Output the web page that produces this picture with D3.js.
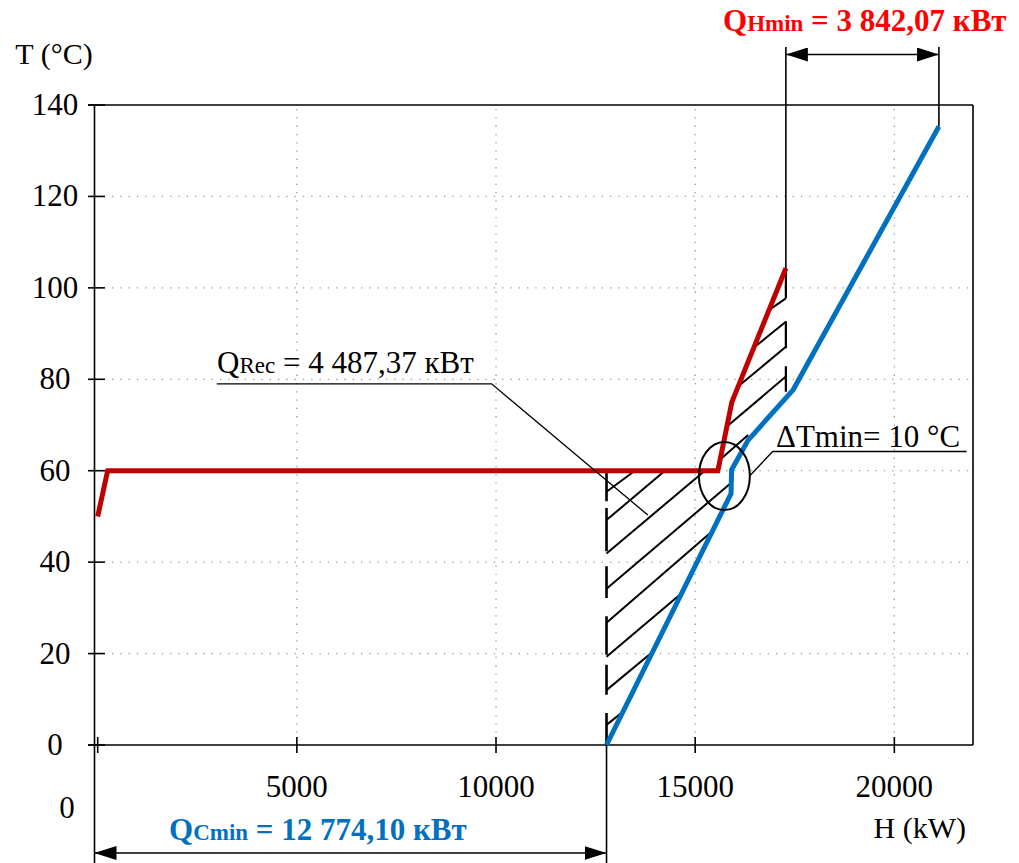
<!DOCTYPE html>
<html>
<head>
<meta charset="utf-8">
<script src="https://cdn.jsdelivr.net/npm/d3@7"></script>
<style>
  body { margin: 0; background: #fff; }
  svg text { font-family: "Liberation Serif", "DejaVu Serif", "Times New Roman", Times, serif; }
</style>
</head>
<body>
<div id="chart"></div>
<script>
// hot composite curve (red)
var hotH = [0, 250, 15570, 15920, 17277];
var hotT = [50, 60, 60, 75, 104.3];
// cold composite curve (blue)
var coldH = [12774, 15900, 15915, 16330, 17460, 21119];
var coldT = [0, 55, 60.2, 66.7, 77.7, 135.3];

var xTicks = [0, 5000, 10000, 15000, 20000];
var xLabels = ["", "5000", "10000", "15000", "20000"];
var yTicks = [0, 20, 40, 60, 80, 100, 120, 140];

// targets
var qcMin = 12774.10;          // cold utility
var qhStart = 17277;           // where hot curve ends
var qhEnd = 21119;             // where cold curve ends
var pinch = [15733, 58.85];    // centre of the pinch ellipse

// hatch strokes [H1, T1, H2, T2]
var hatch = [
  [12774, 55.4, 13486, 60],
  [12774, 49.2, 14240, 60],
  [12774, 41.9, 15244, 60],
  [12774, 34.2, 15914, 57.4],
  [12774, 26.75, 15370, 46.3],
  [12774, 19.3, 14659, 33.2],
  [12774, 12.0, 13906, 20.2],
  [12774, 4.4, 13193, 7.3],
  [15663, 62.7, 16330, 67.8],
  [15788, 69.6, 17277, 80.6],
  [16122, 78.75, 17277, 87.1],
  [16499, 87.1, 17277, 92.6],
  [16858, 95.2, 17277, 97.7]
];

var W = 1019, H = 863;
var frameL = 94.5, frameR = 973;
var serif = "'Liberation Serif', 'DejaVu Serif', 'Times New Roman', serif";

var svg = d3.select("#chart").append("svg")
    .attr("width", W)
    .attr("height", H)
    .attr("font-family", serif);

var x = d3.scaleLinear().domain([0, 22000]).range([97.7, 974]);
var y = d3.scaleLinear().domain([0, 140]).range([745, 105]);

// arrow head
svg.append("defs").append("marker")
    .attr("id", "arr")
    .attr("markerUnits", "userSpaceOnUse")
    .attr("viewBox", "0 0 22 14")
    .attr("markerWidth", 22).attr("markerHeight", 14)
    .attr("refX", 22).attr("refY", 7)
    .attr("orient", "auto-start-reverse")
  .append("path")
    .attr("d", "M0,0L22,7L0,14Z")
    .attr("fill", "#000");

// dotted grid
svg.selectAll(".hgrid")
  .data(yTicks.filter(d => d > 0 && d < 140))
  .enter().append("line")
    .attr("x1", 112).attr("x2", frameR)
    .attr("y1", d => y(d)).attr("y2", d => y(d))
    .attr("stroke", "#9a9a9a").attr("stroke-width", 1.3)
    .attr("stroke-dasharray", "1.3,7");

svg.selectAll(".vgrid")
  .data(xTicks.filter(d => d > 0))
  .enter().append("line")
    .attr("x1", d => x(d)).attr("x2", d => x(d))
    .attr("y1", y(140) + 4).attr("y2", y(0) - 9)
    .attr("stroke", "#9a9a9a").attr("stroke-width", 1.3)
    .attr("stroke-dasharray", "1.3,7");

// frame and axes
var frame = svg.append("g").attr("stroke", "#000").attr("stroke-width", 1.6);
frame.append("line").attr("x1", 88).attr("x2", frameR).attr("y1", y(140)).attr("y2", y(140));
frame.append("line").attr("x1", frameR).attr("x2", frameR).attr("y1", y(140)).attr("y2", y(0));
frame.append("line").attr("x1", 88).attr("x2", frameR).attr("y1", y(0)).attr("y2", y(0));
frame.append("line").attr("x1", frameL).attr("x2", frameL).attr("y1", y(140)).attr("y2", H);

frame.selectAll(".yt")
  .data(yTicks)
  .enter().append("line")
    .attr("x1", 88).attr("x2", 105)
    .attr("y1", d => y(d)).attr("y2", d => y(d));

frame.selectAll(".xt")
  .data(xTicks)
  .enter().append("line")
    .attr("x1", d => x(d)).attr("x2", d => x(d))
    .attr("y1", y(0) - 8).attr("y2", y(0) + 8);

svg.selectAll(".yl")
  .data(yTicks)
  .enter().append("text")
    .attr("x", 55)
    .attr("y", d => y(d) + 10)
    .attr("text-anchor", "middle")
    .attr("font-size", 31)
    .text(d => d);

svg.selectAll(".xl")
  .data(xTicks)
  .enter().append("text")
    .attr("x", d => x(d))
    .attr("y", 797)
    .attr("text-anchor", "middle")
    .attr("font-size", 31)
    .text((d, i) => xLabels[i]);

// stray zero under the axis
svg.append("text").attr("x", 67).attr("y", 818)
    .attr("text-anchor", "middle").attr("font-size", 31).text("0");

svg.append("text").attr("x", 54).attr("y", 64)
    .attr("text-anchor", "middle").attr("font-size", 30).text("T (°C)");
svg.append("text").attr("x", 966).attr("y", 838)
    .attr("text-anchor", "end").attr("font-size", 30).text("H (kW)");

// hatching
var hg = svg.append("g").attr("stroke", "#000").attr("fill", "none");

hg.append("line")
    .attr("x1", x(qcMin)).attr("x2", x(qcMin))
    .attr("y1", y(60)).attr("y2", y(0))
    .attr("stroke-width", 2.6)
    .attr("stroke-dasharray", "30.6 6.7 43.3 15 31.7 18.3 38.4 10 30 18.3 32");

hg.append("line")
    .attr("x1", x(qhStart)).attr("x2", x(qhStart))
    .attr("y1", y(hotT[hotT.length - 1])).attr("y2", y(77.3))
    .attr("stroke-width", 2.2)
    .attr("stroke-dasharray", "30 23 27 18 32");

hg.selectAll(".h")
  .data(hatch)
  .enter().append("line")
    .attr("x1", d => x(d[0])).attr("y1", d => y(d[1]))
    .attr("x2", d => x(d[2])).attr("y2", d => y(d[3]))
    .attr("stroke-width", 2);

// curves
var line = d3.line().x(d => x(d[0])).y(d => y(d[1]));

svg.append("path")
    .datum(hotH.map((h, i) => [h, hotT[i]]))
    .attr("d", line)
    .attr("fill", "none")
    .attr("stroke", "#C00000")
    .attr("stroke-width", 5)
    .attr("stroke-linejoin", "miter");

svg.append("path")
    .datum(coldH.map((h, i) => [h, coldT[i]]))
    .attr("d", line)
    .attr("fill", "none")
    .attr("stroke", "#0070C0")
    .attr("stroke-width", 5)
    .attr("stroke-linejoin", "miter");

// pinch ellipse
svg.append("ellipse")
    .attr("cx", x(pinch[0])).attr("cy", y(pinch[1]))
    .attr("rx", x(pinch[0] + 640) - x(pinch[0]))
    .attr("ry", y(pinch[1] - 7.45) - y(pinch[1]))
    .attr("fill", "none").attr("stroke", "#000").attr("stroke-width", 2);

// ΔTmin callout
var ann = svg.append("g").attr("stroke", "#000").attr("stroke-width", 1.3).attr("fill", "none");
ann.append("polyline")
    .attr("points", [[x(16360), y(58.8)], [x(16945), y(64.2)], [x(21814), y(64.2)]].join(" "));
svg.append("text").attr("x", 776).attr("y", 447)
    .attr("font-size", 31).text("ΔTmin= 10 °C");

// QRec callout
ann.append("polyline")
    .attr("points", [[x(2990), y(79)], [x(9890), y(79)], [x(13811), y(50.3)]].join(" "));
var tr = svg.append("text").attr("x", 217).attr("y", 373).attr("font-size", 31);
tr.append("tspan").text("Q");
tr.append("tspan").attr("font-size", 23).text("Rec");
tr.append("tspan").text(" = 4 487,37 кВт");

// QHmin dimension
var dim = svg.append("g").attr("stroke", "#000").attr("stroke-width", 1.6);
dim.append("line").attr("x1", x(qhStart)).attr("x2", x(qhStart))
    .attr("y1", 47).attr("y2", y(hotT[hotT.length - 1]));
dim.append("line").attr("x1", x(qhEnd)).attr("x2", x(qhEnd))
    .attr("y1", 47).attr("y2", y(coldT[coldT.length - 1]));
dim.append("line").attr("x1", x(qhStart)).attr("x2", x(qhEnd))
    .attr("y1", 54.5).attr("y2", 54.5)
    .attr("marker-start", "url(#arr)").attr("marker-end", "url(#arr)");

var th = svg.append("text").attr("x", 723).attr("y", 31)
    .attr("font-size", 31).attr("font-weight", "bold").attr("fill", "#FF0000");
th.append("tspan").text("Q");
th.append("tspan").attr("font-size", 23).text("Hmin");
th.append("tspan").text(" = 3 842,07 кВт");

// QCmin dimension
dim.append("line").attr("x1", x(qcMin)).attr("x2", x(qcMin))
    .attr("y1", y(0)).attr("y2", H);
dim.append("line").attr("x1", frameL).attr("x2", x(qcMin))
    .attr("y1", 853).attr("y2", 853)
    .attr("marker-start", "url(#arr)").attr("marker-end", "url(#arr)");

var tc = svg.append("text").attr("x", 169).attr("y", 840)
    .attr("font-size", 31).attr("font-weight", "bold").attr("fill", "#0070C0");
tc.append("tspan").text("Q");
tc.append("tspan").attr("font-size", 23).text("Cmin");
tc.append("tspan").text(" = 12 774,10 кВт");
</script>
</body>
</html>
